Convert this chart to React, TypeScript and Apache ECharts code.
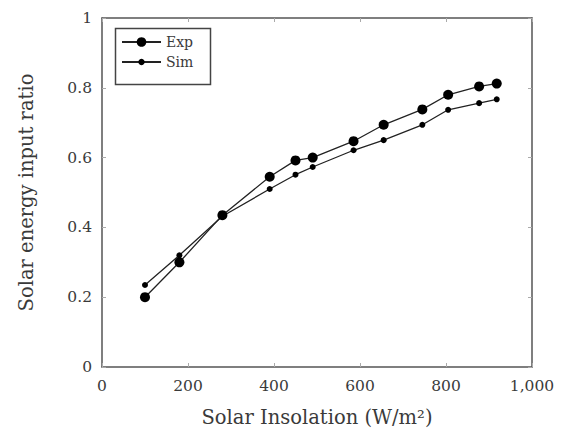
import React, { useEffect, useRef } from "react";
import * as echarts from "echarts";

const insolation = [100, 180, 280, 390, 450, 490, 585, 655, 745, 805, 877, 918];
const expValues = [0.2, 0.3, 0.435, 0.545, 0.592, 0.6, 0.647, 0.694, 0.738, 0.78, 0.804, 0.812];
const simValues = [0.235, 0.32, 0.432, 0.51, 0.551, 0.573, 0.621, 0.65, 0.694, 0.737, 0.756, 0.767];
const seriesNames = ["Exp", "Sim"];
const xTitle = "Solar Insolation (W/m²)";
const yTitle = "Solar energy input ratio";

const FONT = "'DejaVu Serif', 'Liberation Serif', serif";
const TEXT = "#3a3a3a";
const AXIS = "#555";

export default function App() {
  const ref = useRef<HTMLDivElement>(null);
  useEffect(() => {
    if (!ref.current) return;
    const chart = echarts.init(ref.current, null, { renderer: "svg" });
    const pair = (vals: number[]) => insolation.map((x, i) => [x, vals[i]]);
    const tickCommon = { show: true, inside: true, length: 4, lineStyle: { color: "#aaa", width: 1 } };
    const legendCommon = {
      left: 121,
      orient: "vertical",
      padding: 0,
      itemWidth: 39,
      textStyle: { fontFamily: FONT, fontSize: 14, color: TEXT },
    };
    chart.setOption({
      animation: false,
      backgroundColor: "#fff",
      textStyle: { fontFamily: FONT },
      grid: { left: 102, right: 30, top: 18, bottom: 65 },
      legend: [
        { ...legendCommon, data: [seriesNames[0]], top: 35, itemHeight: 12 },
        { ...legendCommon, data: [seriesNames[1]], top: 55, itemHeight: 8 },
      ],
      graphic: [
        {
          type: "rect",
          left: 113,
          top: 26,
          shape: { width: 95, height: 56 },
          style: { fill: "none", stroke: "#444", lineWidth: 1.5 },
          z: 10,
        },
      ],
      xAxis: [
        {
          type: "value",
          min: 0,
          max: 1000,
          interval: 200,
          name: xTitle,
          nameLocation: "middle",
          nameGap: 40,
          nameTextStyle: { fontFamily: FONT, fontSize: 19.5, color: TEXT },
          axisLine: { show: true, onZero: false, lineStyle: { color: AXIS, width: 1.5 } },
          axisTick: tickCommon,
          axisLabel: {
            fontFamily: FONT,
            fontSize: 15.5,
            color: TEXT,
            margin: 11,
            formatter: (v: number) => v.toLocaleString("en-US"),
          },
          splitLine: { show: false },
        },
        {
          type: "value",
          position: "top",
          min: 0,
          max: 1000,
          interval: 200,
          axisLine: { show: true, onZero: false, lineStyle: { color: AXIS, width: 1.5 } },
          axisTick: tickCommon,
          axisLabel: { show: false },
          splitLine: { show: false },
        },
      ],
      yAxis: [
        {
          type: "value",
          min: 0,
          max: 1,
          interval: 0.2,
          name: yTitle,
          nameLocation: "middle",
          nameGap: 66,
          nameTextStyle: { fontFamily: FONT, fontSize: 19.5, color: TEXT },
          axisLine: { show: true, onZero: false, lineStyle: { color: AXIS, width: 1.5 } },
          axisTick: tickCommon,
          axisLabel: {
            fontFamily: FONT,
            fontSize: 15.5,
            color: TEXT,
            margin: 10,
            formatter: (v: number) => (v === 0 || v === 1 ? String(v) : v.toFixed(1)),
          },
          splitLine: { show: false },
        },
        {
          type: "value",
          position: "right",
          min: 0,
          max: 1,
          interval: 0.2,
          axisLine: { show: true, onZero: false, lineStyle: { color: AXIS, width: 1.5 } },
          axisTick: tickCommon,
          axisLabel: { show: false },
          splitLine: { show: false },
        },
      ],
      series: [
        {
          name: seriesNames[0],
          type: "line",
          data: pair(expValues),
          symbol: "circle",
          symbolSize: 10,
          itemStyle: { color: "#000" },
          lineStyle: { color: "#222", width: 1.3 },
        },
        {
          name: seriesNames[1],
          type: "line",
          data: pair(simValues),
          symbol: "circle",
          symbolSize: 6,
          itemStyle: { color: "#000" },
          lineStyle: { color: "#222", width: 1.3 },
        },
      ],
    });
    return () => chart.dispose();
  }, []);
  return <div ref={ref} style={{ width: 562, height: 432, position: "absolute", left: 0, top: 0 }} />;
}
